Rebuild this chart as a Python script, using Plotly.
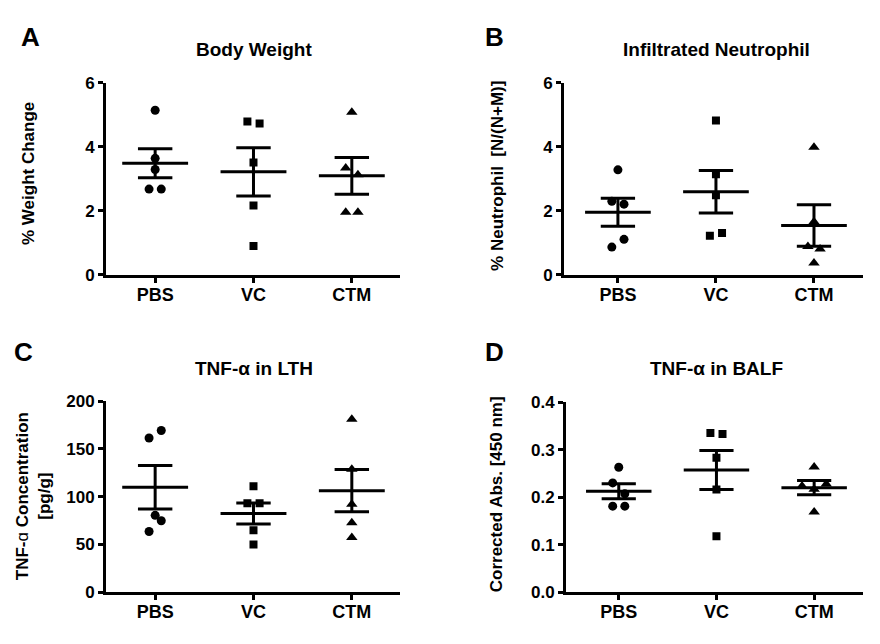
import numpy as np
import plotly.graph_objects as go

# ---------------- data ----------------
groups = ["PBS", "VC", "CTM"]

bw_pbs = [5.14, 3.64, 3.29, 2.68, 2.68]
bw_vc = [4.79, 4.73, 3.51, 2.17, 0.90]
bw_ctm = [5.08, 3.34, 3.13, 1.96, 1.96]

neu_pbs = [3.28, 2.30, 2.21, 1.11, 0.87]
neu_vc = [4.82, 3.14, 2.49, 1.31, 1.22]
neu_ctm = [3.99, 1.66, 0.89, 0.81, 0.37]

lth_pbs = [169.2, 161.4, 80.5, 74.8, 63.6]
lth_vc = [111.0, 93.1, 93.1, 65.0, 50.1]
lth_ctm = [181.0, 128.6, 92.0, 72.8, 57.2]

balf_pbs = [0.263, 0.230, 0.207, 0.181, 0.181]
balf_vc = [0.335, 0.333, 0.283, 0.216, 0.118]
balf_ctm = [0.2635, 0.2234, 0.2275, 0.2166, 0.169]

# ---------------- layout helpers (positions / styles) ----------------
W, H = 880, 644
STEP = 0.062  # horizontal jitter step (category units)
offs_A = [[0, 0, 0, -1, 1], [-1, 1, 0, 0, 0], [0, -1, 1, -1, 1]]
offs_B = [[0, -1, 1, 1, -1], [0, 0, 0, 1, -1], [0, 0, -1, 1, 0]]
offs_C = [[1, -1, 0, 1, -1], [0, -1, 1, 0, 0], [0, 0, 0, 0, 0]]
offs_D = [[0, -1, 1, -1, 1], [-1, 1, 0, 0, 0], [0, -2, 2, 0, 0]]

FONT = "Arial, 'Liberation Sans', sans-serif"
symbols = ["circle", "square", "triangle-up"]
msizes = [9, 8, 10]
MEAN_HW = 0.335
CAP_HW = 0.175

panels = [
    dict(letter="A", title="Body Weight", ytitle="% Weight Change",
         data=[bw_pbs, bw_vc, bw_ctm], offs=offs_A,
         xdom=(106, 400), ydom=(76, 274), xr=(-0.5, 2.49), yr=(0, 6), dtick=2, fmt="d",
         letter_pos=(31, 29), title_pos=(254, 42), ytitle_pos=(29, 170)),
    dict(letter="B", title="Infiltrated Neutrophil", ytitle="% Neutrophil\u00a0\u00a0[N/(N+M)]",
         data=[neu_pbs, neu_vc, neu_ctm], offs=offs_B,
         xdom=(564, 863), ydom=(76, 274), xr=(-0.55, 2.5), yr=(0, 6), dtick=2, fmt="d",
         letter_pos=(494, 29), title_pos=(716, 42), ytitle_pos=(498, 172)),
    dict(letter="C", title="TNF-α in LTH",
         ytitle="TNF-<span style='font-weight:normal'>ɑ</span> Concentration<br>[pg/g]",
         data=[lth_pbs, lth_vc, lth_ctm], offs=offs_C,
         xdom=(106, 400), ydom=(404, 601), xr=(-0.5, 2.49), yr=(0, 200), dtick=50, fmt="d",
         letter_pos=(23, 353), title_pos=(254, 370), ytitle_pos=(33, 502)),
    dict(letter="D", title="TNF-α in BALF", ytitle="Corrected Abs. [450 nm]",
         data=[balf_pbs, balf_vc, balf_ctm], offs=offs_D,
         xdom=(566, 863), ydom=(405, 601), xr=(-0.54, 2.5), yr=(0, 0.4), dtick=0.1, fmt=".1f",
         letter_pos=(494, 353), title_pos=(716, 370), ytitle_pos=(496, 500)),
]

fig = go.Figure()
annotations = []
layout_axes = {}

for k, p in enumerate(panels):
    sfx = "" if k == 0 else str(k + 1)
    xa, ya = "x" + sfx, "y" + sfx
    # individual points
    for gi, vals in enumerate(p["data"]):
        xs = [gi + o * STEP for o in p["offs"][gi]]
        fig.add_trace(go.Scatter(
            x=xs, y=vals, mode="markers", xaxis=xa, yaxis=ya,
            marker=dict(symbol=symbols[gi], size=msizes[gi], color="black",
                        line=dict(width=0)),
            showlegend=False, hoverinfo="skip"))
    # mean +/- SEM computed from the data
    lx, ly = [], []
    for gi, vals in enumerate(p["data"]):
        v = np.array(vals, dtype=float)
        m = v.mean()
        s = v.std(ddof=1) / np.sqrt(len(v))
        lx += [gi - MEAN_HW, gi + MEAN_HW, None]
        ly += [m, m, None]
        lx += [gi - CAP_HW, gi + CAP_HW, None, gi - CAP_HW, gi + CAP_HW, None]
        ly += [m + s, m + s, None, m - s, m - s, None]
        lx += [gi, gi, None]
        ly += [m - s, m + s, None]
    fig.add_trace(go.Scatter(x=lx, y=ly, mode="lines", xaxis=xa, yaxis=ya,
                             line=dict(color="black", width=3),
                             showlegend=False, hoverinfo="skip"))

    x0, x1 = p["xdom"]
    y0, y1 = p["ydom"]
    layout_axes["xaxis" + sfx] = dict(
        domain=[x0 / W, x1 / W], anchor=ya, range=list(p["xr"]),
        tickmode="array", tickvals=[0, 1, 2], ticktext=groups,
        showline=True, linecolor="black", linewidth=3,
        ticks="outside", ticklen=5, tickwidth=2.5, tickcolor="black",
        ticklabelstandoff=-4,
        showgrid=False, zeroline=False,
        tickfont=dict(family=FONT, size=18, color="black", weight="bold"))
    layout_axes["yaxis" + sfx] = dict(
        domain=[1 - y1 / H, 1 - y0 / H], anchor=xa, range=list(p["yr"]),
        tickmode="linear", tick0=0, dtick=p["dtick"], tickformat=p["fmt"],
        showline=True, linecolor="black", linewidth=3,
        ticks="outside", ticklen=5, tickwidth=2.5, tickcolor="black",
        showgrid=False, zeroline=False,
        tickfont=dict(family=FONT, size=17, color="black", weight="bold"))

    lxp, lyp = p["letter_pos"]
    annotations.append(dict(text=p["letter"], x=lxp / W, y=1 - lyp / H, xref="paper", yref="paper",
                            showarrow=False, xanchor="center", yanchor="middle",
                            font=dict(family=FONT, size=26, color="black", weight="bold")))
    txp, typ = p["title_pos"]
    annotations.append(dict(text=p["title"], x=txp / W, y=1 - typ / H, xref="paper", yref="paper",
                            showarrow=False, xanchor="center", yanchor="middle",
                            font=dict(family=FONT, size=19, color="black", weight="bold")))
    yxp, yyp = p["ytitle_pos"]
    annotations.append(dict(text=p["ytitle"], x=yxp / W, y=1 - yyp / H, xref="paper", yref="paper",
                            showarrow=False, xanchor="center", yanchor="middle", textangle=-90,
                            font=dict(family=FONT, size=17, color="black", weight="bold")))

fig.update_layout(
    width=W, height=H, margin=dict(l=0, r=0, t=0, b=0),
    paper_bgcolor="white", plot_bgcolor="white",
    font=dict(family=FONT, color="black", weight="bold"),
    annotations=annotations, showlegend=False, **layout_axes)

fig.write_html("out.html", config={"displayModeBar": False},
               post_script="document.body.style.margin='0';document.body.style.padding='0';")
